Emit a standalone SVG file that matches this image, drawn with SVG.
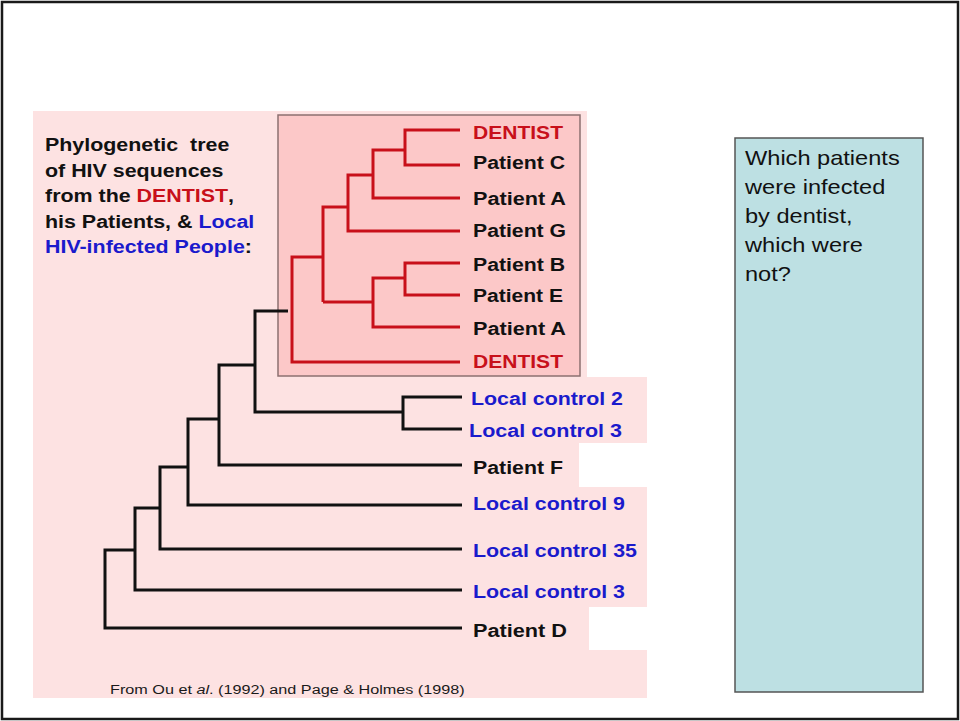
<svg xmlns="http://www.w3.org/2000/svg" width="960" height="721" viewBox="0 0 960 721">
<style>
.lbl{font-family:"Liberation Sans",Arial,sans-serif;font-weight:bold;font-size:18px}
.red{fill:#c8101a}
.blk{fill:#111}
.blu{fill:#1a1acc}
.rl{fill:none;stroke:#c8101a;stroke-width:3;stroke-linejoin:miter}
.bl{fill:none;stroke:#111;stroke-width:3;stroke-linejoin:miter}
.q{font-family:"Liberation Sans",Arial,sans-serif;font-size:20px;fill:#111}
</style>
<rect x="0" y="0" width="960" height="721" fill="#fff"/>
<rect x="2" y="2" width="956" height="717" fill="none" stroke="#1a1a1a" stroke-width="2.5"/>
<g id="panel">
<polygon points="33,111 587,111 587,377 647,377 647,443 579,443 579,487 647,487 647,607 589,607 589,650 647,650 647,698 33,698" fill="#fde2e2"/>
<rect id="dentist-box" x="278" y="115" width="302" height="261" fill="#fcc8c8" stroke="#8c7070" stroke-width="1.5"/>
</g>
<g id="title" class="lbl">
<text transform="translate(45,151) scale(1.19,1)" class="blk" xml:space="preserve">Phylogenetic  tree</text>
<text transform="translate(45,177) scale(1.19,1)" class="blk">of HIV sequences</text>
<text transform="translate(45,202) scale(1.19,1)" class="blk">from the <tspan class="red">DENTIST</tspan>,</text>
<text transform="translate(45,228) scale(1.19,1)" class="blk">his Patients, &amp; <tspan class="blu">Local</tspan></text>
<text transform="translate(45,253) scale(1.19,1)" class="blu">HIV-infected People<tspan class="blk">:</tspan></text>
</g>
<g id="connectors">
<path class="rl" d="M460,130 H405 V165 H460"/>
<path class="rl" d="M405,150 H373 V198 H460"/>
<path class="rl" d="M373,175 H348 V231 H460"/>
<path class="rl" d="M348,207 H323 V302"/>
<path class="rl" d="M460,263 H405 V295 H460"/>
<path class="rl" d="M405,278 H373 V327 H460"/>
<path class="rl" d="M373,302 H323"/>
<path class="rl" d="M323,257 H292 V362 H460"/>
<path class="bl" d="M288,311 H255 V412 H403"/>
<path class="bl" d="M462,397 H403 V429 H462"/>
<path class="bl" d="M255,365 H219 V465 H462"/>
<path class="bl" d="M219,419 H188 V505 H462"/>
<path class="bl" d="M188,467 H160 V549 H462"/>
<path class="bl" d="M160,508 H135 V590 H462"/>
<path class="bl" d="M135,550 H105 V628 H462"/>
</g>
<g id="leaf-dentist-1"><text class="lbl red" x="473" y="139" textLength="90" lengthAdjust="spacingAndGlyphs">DENTIST</text></g>
<g id="leaf-patient-c"><text class="lbl blk" x="473" y="169" textLength="92" lengthAdjust="spacingAndGlyphs">Patient C</text></g>
<g id="leaf-patient-a-1"><text class="lbl blk" x="473" y="205" textLength="93" lengthAdjust="spacingAndGlyphs">Patient A</text></g>
<g id="leaf-patient-g"><text class="lbl blk" x="473" y="237" textLength="93" lengthAdjust="spacingAndGlyphs">Patient G</text></g>
<g id="leaf-patient-b"><text class="lbl blk" x="473" y="271" textLength="92" lengthAdjust="spacingAndGlyphs">Patient B</text></g>
<g id="leaf-patient-e"><text class="lbl blk" x="473" y="302" textLength="90" lengthAdjust="spacingAndGlyphs">Patient E</text></g>
<g id="leaf-patient-a-2"><text class="lbl blk" x="473" y="335" textLength="93" lengthAdjust="spacingAndGlyphs">Patient A</text></g>
<g id="leaf-dentist-2"><text class="lbl red" x="473" y="368" textLength="90" lengthAdjust="spacingAndGlyphs">DENTIST</text></g>
<g id="leaf-lc2"><text class="lbl blu" x="471" y="405" textLength="152" lengthAdjust="spacingAndGlyphs">Local control 2</text></g>
<g id="leaf-lc3-a"><text class="lbl blu" x="469" y="437" textLength="153" lengthAdjust="spacingAndGlyphs">Local control 3</text></g>
<g id="leaf-patient-f"><text class="lbl blk" x="473" y="474" textLength="90" lengthAdjust="spacingAndGlyphs">Patient F</text></g>
<g id="leaf-lc9"><text class="lbl blu" x="473" y="510" textLength="152" lengthAdjust="spacingAndGlyphs">Local control 9</text></g>
<g id="leaf-lc35"><text class="lbl blu" x="473" y="557" textLength="164" lengthAdjust="spacingAndGlyphs">Local control 35</text></g>
<g id="leaf-lc3-b"><text class="lbl blu" x="473" y="598" textLength="152" lengthAdjust="spacingAndGlyphs">Local control 3</text></g>
<g id="leaf-patient-d"><text class="lbl blk" x="473" y="637" textLength="94" lengthAdjust="spacingAndGlyphs">Patient D</text></g>
<g id="footer"><text transform="translate(110,694) scale(1.2,1)" font-family="'Liberation Sans',Arial,sans-serif" font-size="13.5" fill="#1a1a1a">From Ou et <tspan font-style="italic">al</tspan>. (1992) and Page &amp; Holmes (1998)</text></g>
<g id="question">
<rect x="735" y="138" width="188" height="554" fill="#bde0e3" stroke="#555" stroke-width="1.5"/>
<text class="q" transform="translate(745,165) scale(1.18,1)">Which patients</text>
<text class="q" transform="translate(745,194) scale(1.18,1)">were infected</text>
<text class="q" transform="translate(745,223) scale(1.18,1)">by dentist,</text>
<text class="q" transform="translate(745,252) scale(1.18,1)">which were</text>
<text class="q" transform="translate(745,281) scale(1.18,1)">not?</text>
</g>
</svg>
